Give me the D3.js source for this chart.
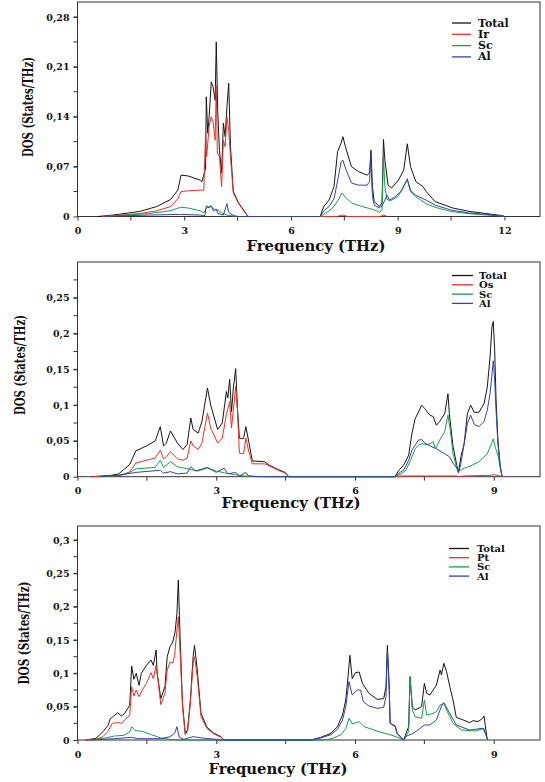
<!doctype html>
<html lang="en">
<head>
<meta charset="utf-8">
<title>Phonon DOS</title>
<script src="https://cdn.jsdelivr.net/npm/d3@7"></script>
<style>
  body { margin: 0; background: #fff; }
  svg { display: block; }
  text { font-family: "DejaVu Serif", "Liberation Serif", serif; font-weight: bold; fill: #111; }
</style>
</head>
<body>
<svg></svg>
<script>
// ---- panel 1 : Ir / Sc / Al ----
var p1Total = [[0.57,0],[1.0,0.002],[1.74,0.007],[2.23,0.014],[2.62,0.024],[2.82,0.037],[2.91,0.058],[3.1,0.057],[3.45,0.051],[3.5,0.049],[3.6,0.068],
  [3.62,0.168],[3.66,0.117],[3.70,0.14],[3.76,0.189],[3.81,0.182],[3.87,0.163],[3.90,0.245],[3.94,0.149],[3.99,0.093],[4.05,0.061],[4.1,0.131],
  [4.15,0.112],[4.2,0.154],[4.25,0.187],[4.3,0.098],[4.38,0.035],[4.53,0.019],[4.67,0.009],[4.79,0],
  [6.82,0],[6.92,0.014],[7.07,0.023],[7.21,0.042],[7.31,0.091],[7.41,0.103],[7.46,0.112],[7.53,0.098],[7.70,0.07],[7.9,0.063],[8.14,0.058],
  [8.21,0.061],[8.25,0.093],[8.29,0.042],[8.34,0.021],[8.48,0.014],[8.56,0.019],[8.6,0.108],[8.64,0.079],[8.73,0.044],[8.83,0.040],[9.02,0.051],
  [9.17,0.065],[9.27,0.102],[9.36,0.07],[9.51,0.049],[9.71,0.042],[9.8,0.035],[10.05,0.021],[10.54,0.012],[11.03,0.007],[11.52,0.004],[11.96,0.001],[12.0,0]];
var p1Ir = [[0.7,0],[1.74,0.004],[2.23,0.008],[2.62,0.014],[2.82,0.025],[2.91,0.035],[3.1,0.036],[3.45,0.037],[3.55,0.037],[3.6,0.117],[3.63,0.084],
  [3.7,0.126],[3.76,0.14],[3.81,0.133],[3.87,0.107],[3.9,0.184],[3.93,0.089],[3.99,0.084],[4.05,0.042],[4.1,0.107],[4.15,0.098],[4.2,0.14],
  [4.25,0.121],[4.3,0.084],[4.38,0.033],[4.53,0.018],[4.67,0.008],[4.79,0],
  [7.3,0],[7.45,0.002],[7.6,0],[8.5,0],[8.6,0.002],[8.7,0]];
var p1Sc = [[0.8,0],[1.0,0.001],[2.0,0.004],[2.6,0.008],[2.9,0.013],[3.1,0.012],[3.45,0.008],[3.55,0.005],[3.62,0.012],[3.75,0.015],[3.85,0.01],
  [3.95,0.009],[4.05,0.005],[4.2,0.002],[4.4,0.0005],[4.6,0],
  [6.82,0],[7.07,0.008],[7.21,0.014],[7.35,0.025],[7.43,0.033],[7.53,0.027],[7.7,0.019],[8.0,0.014],[8.3,0.01],[8.5,0.006],[8.56,0.01],[8.6,0.084],
  [8.64,0.042],[8.7,0.024],[8.8,0.022],[9.0,0.028],[9.27,0.051],[9.36,0.035],[9.5,0.028],[9.8,0.018],[10.05,0.013],[10.5,0.007],[11.0,0.004],
  [11.5,0.002],[11.9,0.001],[12.0,0]];
var p1Al = [[0.8,0],[1.0,0.0005],[2.0,0.002],[2.9,0.003],[3.45,0.002],[3.58,0.001],[3.62,0.015],[3.7,0.012],[3.76,0.015],[3.82,0.008],[3.9,0.01],
  [3.95,0.004],[4.1,0.002],[4.2,0.018],[4.25,0.006],[4.4,0.001],[4.5,0],
  [6.82,0],[6.92,0.008],[7.07,0.014],[7.21,0.025],[7.31,0.05],[7.41,0.077],[7.46,0.079],[7.53,0.068],[7.7,0.047],[7.9,0.044],[8.14,0.044],
  [8.21,0.049],[8.24,0.084],[8.29,0.028],[8.34,0.016],[8.48,0.012],[8.56,0.015],[8.64,0.023],[8.7,0.030],[8.77,0.023],[8.9,0.027],[9.1,0.035],
  [9.27,0.053],[9.36,0.037],[9.5,0.03],[9.8,0.023],[10.05,0.016],[10.5,0.009],[11.0,0.005],[11.5,0.003],[12.0,0]];
var p1Names = ["Total", "Ir", "Sc", "Al"];
var p1XTicks = [0, 3, 6, 9, 12];
var p1YTicks = [0, 0.07, 0.14, 0.21, 0.28];

// ---- panel 2 : Os / Sc / Al ----
var p2Total = [[0.3,0],[0.74,0.002],[0.89,0.004],[1.0,0.01],[1.13,0.017],[1.26,0.036],[1.49,0.043],[1.68,0.05],[1.79,0.07],[1.86,0.043],[1.92,0.047],
  [2.01,0.064],[2.16,0.047],[2.28,0.038],[2.37,0.045],[2.45,0.082],[2.5,0.066],[2.61,0.061],[2.69,0.077],[2.81,0.124],[2.88,0.1],[3.03,0.066],
  [3.13,0.075],[3.22,0.119],[3.25,0.11],[3.29,0.136],[3.33,0.091],[3.37,0.124],[3.42,0.151],[3.46,0.094],[3.5,0.054],[3.59,0.053],[3.64,0.07],
  [3.7,0.05],[3.78,0.022],[4.04,0.021],[4.15,0.016],[4.34,0.01],[4.49,0.006],[4.57,0],
  [6.86,0],[6.95,0.009],[7.05,0.016],[7.16,0.03],[7.23,0.06],[7.3,0.081],[7.37,0.09],[7.44,0.1],[7.51,0.095],[7.62,0.086],[7.69,0.084],[7.76,0.072],
  [7.83,0.077],[7.94,0.088],[8.01,0.116],[8.04,0.088],[8.12,0.042],[8.2,0.016],[8.24,0.007],[8.29,0.028],[8.36,0.046],[8.43,0.088],[8.5,0.1],
  [8.58,0.09],[8.68,0.09],[8.79,0.102],[8.86,0.125],[8.92,0.167],[8.96,0.209],[8.99,0.217],[9.02,0.176],[9.05,0.107],[9.09,0.051],[9.14,0.014],[9.18,0]];
var p2Os = [[0.3,0],[0.74,0.001],[0.89,0.002],[1.0,0.003],[1.13,0.007],[1.26,0.019],[1.49,0.023],[1.68,0.026],[1.79,0.037],[1.86,0.025],[1.92,0.028],
  [2.01,0.035],[2.16,0.025],[2.28,0.023],[2.37,0.026],[2.45,0.05],[2.5,0.043],[2.61,0.038],[2.69,0.047],[2.81,0.089],[2.88,0.068],[3.03,0.047],
  [3.13,0.054],[3.22,0.087],[3.29,0.105],[3.33,0.068],[3.42,0.126],[3.46,0.091],[3.5,0.033],[3.59,0.032],[3.64,0.054],[3.7,0.036],[3.78,0.018],
  [4.04,0.018],[4.15,0.015],[4.34,0.009],[4.49,0.005],[4.57,0],
  [6.9,0],[7.0,0.001],[8.2,0.001],[8.25,0],[8.35,0.001],[8.95,0.002],[9.0,0.003],[9.05,0.002],[9.15,0.001],[9.2,0]];
var p2Sc = [[0.5,0],[0.9,0.002],[1.13,0.006],[1.26,0.011],[1.68,0.013],[1.79,0.023],[1.86,0.013],[2.01,0.021],[2.16,0.014],[2.37,0.011],[2.45,0.01],
  [2.6,0.008],[2.81,0.012],[3.0,0.008],[3.2,0.005],[3.4,0.003],[3.6,0.001],[4.1,0],
  [6.86,0],[7.0,0.004],[7.1,0.009],[7.2,0.023],[7.3,0.039],[7.37,0.044],[7.44,0.046],[7.55,0.045],[7.62,0.046],[7.69,0.049],[7.74,0.039],
  [7.83,0.051],[7.94,0.063],[8.01,0.086],[8.06,0.065],[8.12,0.032],[8.2,0.012],[8.29,0.009],[8.36,0.012],[8.5,0.015],[8.68,0.021],[8.86,0.032],
  [8.95,0.046],[8.99,0.053],[9.03,0.042],[9.09,0.03],[9.14,0.014],[9.18,0]];
var p2Al = [[0.5,0],[0.9,0.002],[1.26,0.006],[1.79,0.009],[1.86,0.005],[2.01,0.007],[2.16,0.004],[2.37,0.005],[2.45,0.014],[2.55,0.008],[2.81,0.013],
  [3.0,0.006],[3.17,0.012],[3.25,0.004],[3.42,0.006],[3.5,0.001],[3.64,0.006],[3.7,0.001],[3.9,0],
  [6.86,0],[6.95,0.005],[7.05,0.009],[7.16,0.023],[7.23,0.037],[7.3,0.044],[7.37,0.051],[7.44,0.052],[7.51,0.047],[7.62,0.043],[7.76,0.039],
  [7.94,0.032],[8.04,0.028],[8.12,0.019],[8.2,0.012],[8.24,0.005],[8.29,0.019],[8.36,0.046],[8.43,0.074],[8.5,0.086],[8.58,0.073],[8.68,0.07],
  [8.79,0.077],[8.86,0.093],[8.92,0.116],[8.99,0.162],[9.02,0.135],[9.05,0.093],[9.09,0.046],[9.14,0.014],[9.18,0]];
var p2Names = ["Total", "Os", "Sc", "Al"];
var p2XTicks = [0, 3, 6, 9];
var p2YTicks = [0, 0.05, 0.1, 0.15, 0.2, 0.25];

// ---- panel 3 : Pt / Sc / Al ----
var p3Total = [[0.18,0],[0.4,0.0025],[0.55,0.0125],[0.66,0.022],[0.71,0.032],[0.8,0.037],[0.87,0.041],[0.95,0.036],[1.02,0.04],[1.13,0.052],
  [1.17,0.111],[1.22,0.091],[1.27,0.1],[1.33,0.082],[1.38,0.1],[1.49,0.112],[1.59,0.12],[1.64,0.112],[1.7,0.135],[1.72,0.102],[1.8,0.062],
  [1.89,0.08],[1.94,0.125],[2.0,0.14],[2.06,0.147],[2.11,0.162],[2.15,0.19],[2.18,0.24],[2.22,0.15],[2.27,0.055],[2.33,0.01],[2.38,0.015],
  [2.44,0.06],[2.5,0.125],[2.53,0.142],[2.59,0.105],[2.67,0.04],[2.8,0.019],[2.95,0.01],[3.1,0.005],[3.17,0],
  [5.05,0],[5.26,0.004],[5.48,0.01],[5.62,0.02],[5.73,0.0375],[5.8,0.06],[5.85,0.095],[5.89,0.127],[5.94,0.092],[6.01,0.101],[6.09,0.102],
  [6.16,0.085],[6.3,0.07],[6.48,0.061],[6.62,0.062],[6.67,0.08],[6.7,0.142],[6.74,0.08],[6.76,0.025],[6.87,0.021],[6.91,0.01],[7.05,0],
  [7.16,0.02],[7.19,0.095],[7.24,0.05],[7.3,0.045],[7.44,0.05],[7.5,0.085],[7.55,0.07],[7.62,0.0675],[7.69,0.075],[7.76,0.0825],[7.84,0.105],
  [7.87,0.0975],[7.92,0.115],[7.98,0.1025],[8.05,0.08],[8.12,0.06],[8.19,0.034],[8.34,0.03],[8.48,0.026],[8.55,0.029],[8.66,0.0275],
  [8.76,0.0325],[8.79,0.036],[8.82,0.02],[8.85,0.005],[8.87,0]];
var p3Pt = [[0.18,0],[0.4,0.001],[0.55,0.005],[0.66,0.013],[0.75,0.025],[0.87,0.026],[0.95,0.025],[1.02,0.03],[1.13,0.037],[1.17,0.08],[1.22,0.066],
  [1.27,0.075],[1.33,0.065],[1.4,0.075],[1.49,0.085],[1.59,0.101],[1.64,0.092],[1.7,0.112],[1.74,0.09],[1.8,0.053],[1.89,0.07],[1.94,0.105],
  [2.0,0.117],[2.06,0.115],[2.1,0.127],[2.15,0.165],[2.18,0.185],[2.22,0.13],[2.27,0.05],[2.33,0.008],[2.38,0.013],[2.44,0.055],[2.5,0.115],
  [2.53,0.125],[2.59,0.095],[2.67,0.035],[2.8,0.017],[2.95,0.009],[3.1,0.004],[3.17,0]];
var p3Sc = [[0.3,0],[0.6,0.003],[0.8,0.006],[1.0,0.007],[1.13,0.012],[1.17,0.02],[1.25,0.014],[1.4,0.013],[1.6,0.008],[1.8,0.003],[2.0,0.001],[2.15,0],
  [5.3,0],[5.5,0.002],[5.7,0.008],[5.8,0.017],[5.87,0.0325],[5.94,0.024],[6.09,0.0275],[6.2,0.02],[6.5,0.013],[6.8,0.007],[7.0,0.002],[7.05,0],
  [7.16,0.0125],[7.19,0.095],[7.24,0.045],[7.3,0.035],[7.44,0.0325],[7.5,0.06],[7.55,0.0375],[7.69,0.04],[7.76,0.0425],[7.84,0.0525],[7.92,0.055],
  [7.98,0.045],[8.12,0.025],[8.3,0.015],[8.6,0.0135],[8.79,0.0175],[8.82,0.01],[8.87,0]];
var p3Al = [[0.3,0],[0.8,0.002],[1.17,0.004],[1.3,0.002],[1.8,0.002],[2.0,0.005],[2.1,0.01],[2.15,0.02],[2.2,0.004],[2.3,0.001],[2.5,0.005],
  [2.7,0.003],[3.0,0.001],[3.1,0],
  [5.05,0],[5.26,0.003],[5.48,0.008],[5.62,0.016],[5.73,0.03],[5.8,0.05],[5.87,0.0875],[5.94,0.0675],[6.05,0.075],[6.12,0.075],[6.18,0.0575],
  [6.3,0.051],[6.48,0.0475],[6.62,0.049],[6.67,0.065],[6.7,0.135],[6.74,0.075],[6.76,0.025],[6.87,0.02],[6.91,0.01],[7.05,0],[7.12,0.006],
  [7.26,0.01],[7.41,0.0175],[7.5,0.0225],[7.62,0.0225],[7.76,0.03],[7.87,0.051],[7.92,0.056],[8.01,0.045],[8.19,0.0225],[8.48,0.015],
  [8.76,0.0175],[8.82,0.01],[8.87,0]];
var p3Names = ["Total", "Pt", "Sc", "Al"];
var p3XTicks = [0, 3, 6, 9];
var p3YTicks = [0, 0.05, 0.1, 0.15, 0.2, 0.25, 0.3];

var colors = ["#151515", "#e3342b", "#1f9a50", "#3344aa"];
var width = 545, height = 782;
var left = 77.5, right = 540;

var svg = d3.select("svg").attr("width", width).attr("height", height);

// legend: [line x1, line x2, text x, first row y, row step, font size]
var panels = [
  { series: [p1Total, p1Ir, p1Sc, p1Al], names: p1Names, xTicks: p1XTicks, yTicks: p1YTicks,
    xMax: 13, yMax: 0.301, yMinor: 0.035, top: 2, bottom: 216.5,
    xTitle: [316, 251], yTitle: [28, 107, 100], legend: [452, 471, 478, 23, 11.3, 11] },
  { series: [p2Total, p2Os, p2Sc, p2Al], names: p2Names, xTicks: p2XTicks, yTicks: p2YTicks,
    xMax: 10, yMax: 0.3, yMinor: 0.025, top: 262, bottom: 476.7,
    xTitle: [291, 508], yTitle: [20, 365, 100], legend: [452, 473, 479, 275.5, 9.3, 10] },
  { series: [p3Total, p3Pt, p3Sc, p3Al], names: p3Names, xTicks: p3XTicks, yTicks: p3YTicks,
    xMax: 10, yMax: 0.321, yMinor: 0.025, top: 526, bottom: 740,
    xTitle: [278, 774], yTitle: [24, 633, 103], legend: [449, 469, 477, 548.5, 9.2, 10] }
];

function fmt(v) {
  return v === 0 ? "0" : String(+v.toFixed(2)).replace(".", ",");
}

panels.forEach(function (p) {
  var x = d3.scaleLinear().domain([0, p.xMax]).range([left, right]);
  var y = d3.scaleLinear().domain([0, p.yMax]).range([p.bottom, p.top]);
  var g = svg.append("g");

  // frame
  g.append("rect")
    .attr("x", left).attr("y", p.top)
    .attr("width", right - left).attr("height", p.bottom - p.top)
    .attr("fill", "none").attr("stroke", "#333").attr("stroke-width", 1);

  // minor ticks
  var yMinor = d3.range(p.yMinor, p.yMax, p.yMinor);
  g.selectAll(".ymin").data(yMinor).enter().append("line")
    .attr("x1", left - 4).attr("x2", left)
    .attr("y1", function (d) { return y(d); }).attr("y2", function (d) { return y(d); })
    .attr("stroke", "#333");
  var xMinor = d3.range(1.5, p.xMax, 3);
  g.selectAll(".xmin").data(xMinor).enter().append("line")
    .attr("x1", function (d) { return x(d); }).attr("x2", function (d) { return x(d); })
    .attr("y1", p.bottom).attr("y2", p.bottom + 4)
    .attr("stroke", "#333");

  // axes
  var yAxis = d3.axisLeft(y).tickValues(p.yTicks).tickFormat(fmt).tickSize(4).tickPadding(4);
  var xAxis = d3.axisBottom(x).tickValues(p.xTicks).tickFormat(d3.format("d")).tickSize(4).tickPadding(7);
  var ya = g.append("g").attr("transform", "translate(" + left + ",0)").call(yAxis);
  var xa = g.append("g").attr("transform", "translate(0," + p.bottom + ")").call(xAxis);
  [ya, xa].forEach(function (a) {
    a.select(".domain").remove();
    a.selectAll("line").attr("stroke", "#333");
    a.selectAll("text").attr("font-size", 9.5).attr("font-family", null).attr("fill", "#111");
  });

  // curves
  var line = d3.line().x(function (d) { return x(d[0]); }).y(function (d) { return y(d[1]); });
  p.series.forEach(function (s, i) {
    g.append("path").datum(s)
      .attr("d", line)
      .attr("fill", "none")
      .attr("stroke", colors[i])
      .attr("stroke-width", 1)
      .attr("stroke-linejoin", "round");
  });

  // legend
  var lg = p.legend;
  p.names.forEach(function (n, i) {
    var ly = lg[3] + i * lg[4];
    g.append("line").attr("x1", lg[0]).attr("x2", lg[1]).attr("y1", ly).attr("y2", ly)
      .attr("stroke", colors[i]).attr("stroke-width", 1.3);
    g.append("text").attr("x", lg[2]).attr("y", ly + 3.5).attr("font-size", lg[5]).text(n);
  });

  // axis titles
  g.append("text")
    .attr("x", p.xTitle[0]).attr("y", p.xTitle[1])
    .attr("text-anchor", "middle").attr("font-size", 14)
    .attr("textLength", 139).attr("lengthAdjust", "spacingAndGlyphs")
    .text("Frequency (THz)");
  g.append("text")
    .attr("transform", "translate(" + p.yTitle[0] + "," + p.yTitle[1] + ") rotate(-90)")
    .attr("text-anchor", "middle").attr("dy", "0.35em").attr("font-size", 15)
    .attr("textLength", p.yTitle[2]).attr("lengthAdjust", "spacingAndGlyphs")
    .text("DOS (States/THz)");
});
</script>
</body>
</html>
